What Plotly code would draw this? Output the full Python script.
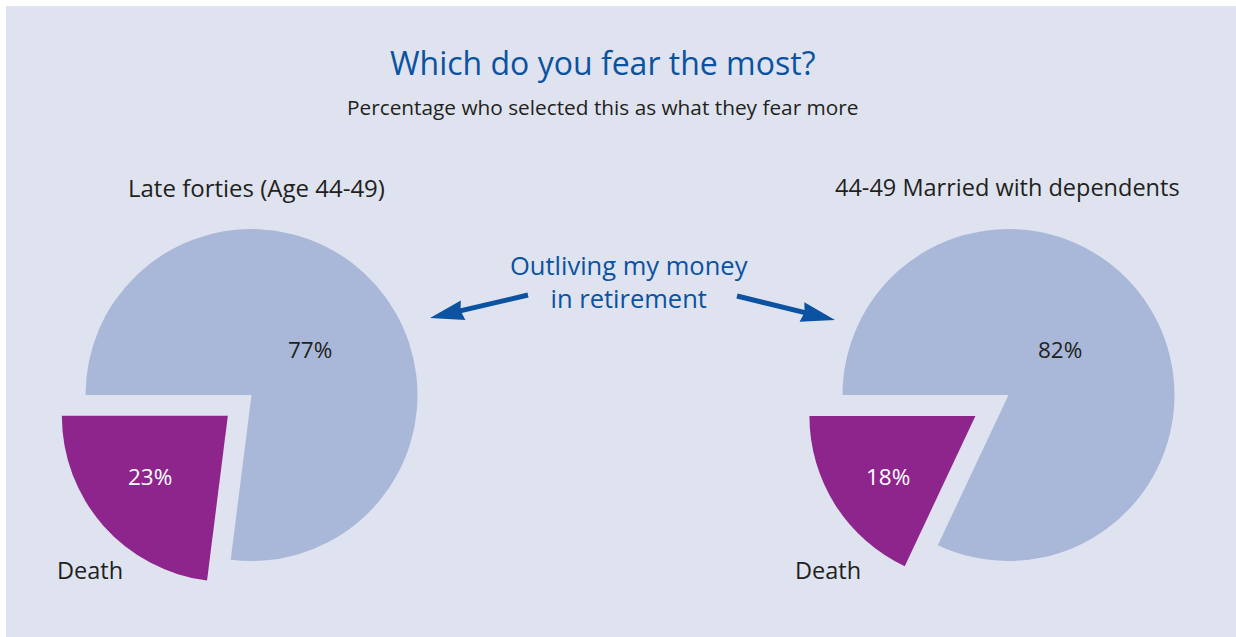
import math
import plotly.graph_objects as go

# ---- data ----
categories = ["Outliving my money in retirement", "Death"]
late_forties = [77, 23]
married_dependents = [82, 18]
group_titles = ["Late forties (Age 44-49)", "44-49 Married with dependents"]
title = "Which do you fear the most?"
subtitle = "Percentage who selected this as what they fear more"
callout = "Outliving my money<br>in retirement"

# ---- styling ----
W, H = 1236, 637
BG = "#dee3ef"
C_OUT = "#a9b8d9"
C_DEATH = "#8e258c"
BLUE = "#0b52a0"
DARK = "#231f20"
FONT = "Open Sans"

def px_x(x):
    return x / W

def px_y(y):
    return 1 - y / H

R = 166
pies = [
    dict(values=late_forties, cx=251.5, cy=395, pull=0.19),
    dict(values=married_dependents, cx=1008.5, cy=395, pull=0.236),
]

fig = go.Figure()
for p in pies:
    half = R * (1 + p["pull"])
    fig.add_trace(go.Pie(
        labels=categories,
        values=p["values"],
        sort=False,
        direction="clockwise",
        rotation=270,
        pull=[0, p["pull"]],
        marker=dict(colors=[C_OUT, C_DEATH], line=dict(width=0)),
        textinfo="none",
        hoverinfo="label+percent",
        showlegend=False,
        domain=dict(x=[px_x(p["cx"] - half), px_x(p["cx"] + half)],
                    y=[px_y(p["cy"] + half), px_y(p["cy"] - half)]),
    ))

ann = []
def text(x, y, s, size, color, xanchor="center"):
    ann.append(dict(x=px_x(x), y=px_y(y), xref="paper", yref="paper", text=s,
                    showarrow=False, xanchor=xanchor, yanchor="middle",
                    font=dict(family=FONT, size=size, color=color)))

text(602, 63, title, 32, BLUE)
text(602, 107, subtitle, 20.8, DARK)
text(256, 187, group_titles[0], 24, DARK)
text(1007, 187, group_titles[1], 23.5, DARK)
text(629, 281, callout, 25.5, BLUE)

# percentage labels
label_pos = [[(310, 349), (150, 476)], [(1060, 349), (888, 476)]]
series = [late_forties, married_dependents]
for vals, poss in zip(series, label_pos):
    text(poss[0][0], poss[0][1], f"{vals[0]}%", 22.5, DARK)
    text(poss[1][0], poss[1][1], f"{vals[1]}%", 22.5, "white")
text(55, 570, categories[1], 23.5, DARK, xanchor="left")
text(793, 570, categories[1], 23.5, DARK, xanchor="left")

shapes = [
    dict(type="rect", xref="paper", yref="paper", x0=0, x1=px_x(6), y0=0, y1=1,
         fillcolor="white", line=dict(width=0)),
    dict(type="rect", xref="paper", yref="paper", x0=0, x1=1, y0=px_y(6), y1=1,
         fillcolor="white", line=dict(width=0)),
]

def arrow(tail, head, width=5, head_len=34, head_w=20):
    dx, dy = head[0] - tail[0], head[1] - tail[1]
    L = math.hypot(dx, dy)
    ux, uy = dx / L, dy / L
    nx, ny = -uy, ux
    bx, by = head[0] - ux * head_len, head[1] - uy * head_len
    pts = [
        (tail[0] + nx * width / 2, tail[1] + ny * width / 2),
        (bx + ux * 2 + nx * width / 2, by + uy * 2 + ny * width / 2),
        (bx + nx * head_w / 2, by + ny * head_w / 2),
        head,
        (bx - nx * head_w / 2, by - ny * head_w / 2),
        (bx + ux * 2 - nx * width / 2, by + uy * 2 - ny * width / 2),
        (tail[0] - nx * width / 2, tail[1] - ny * width / 2),
    ]
    path = "M " + " L ".join(f"{px_x(x):.5f},{px_y(y):.5f}" for x, y in pts) + " Z"
    return dict(type="path", xref="paper", yref="paper", path=path,
                fillcolor=BLUE, line=dict(width=0))

shapes.append(arrow((528, 295), (430, 318)))
shapes.append(arrow((737, 296), (835, 320)))

fig.update_layout(
    width=W, height=H,
    margin=dict(l=0, r=0, t=0, b=0),
    paper_bgcolor=BG, plot_bgcolor=BG,
    annotations=ann, shapes=shapes,
    font=dict(family=FONT),
)
fig.write_html(
    "out.html",
    config={"displayModeBar": False},
    post_script="document.body.style.margin='0';document.body.style.overflow='hidden';",
)
